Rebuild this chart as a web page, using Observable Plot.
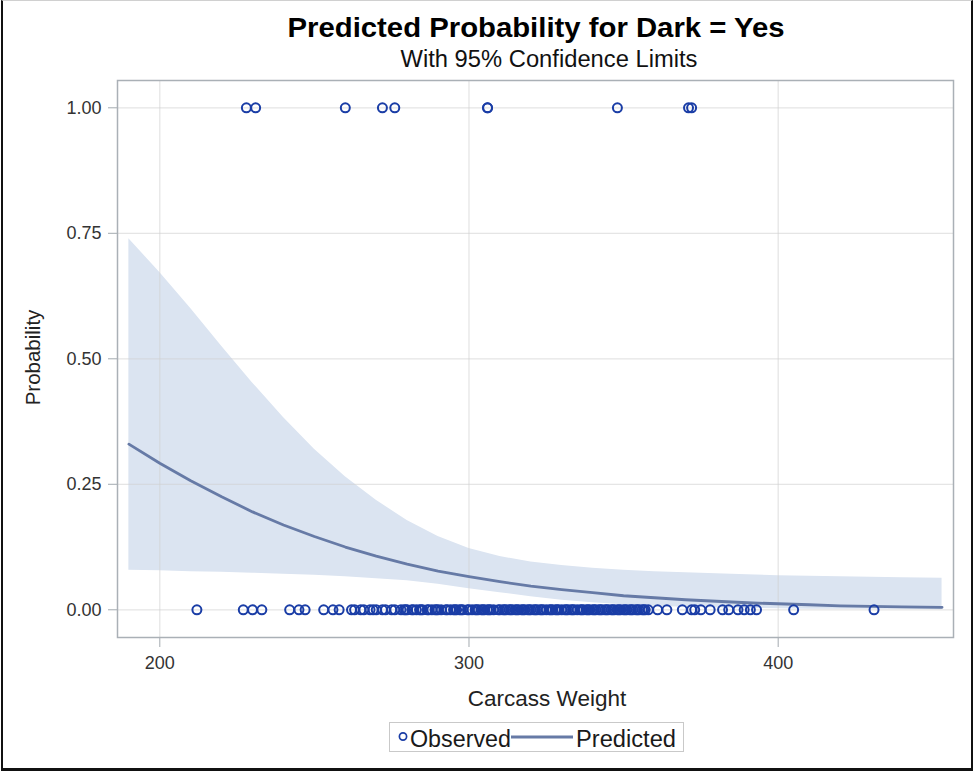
<!DOCTYPE html>
<html>
<head>
<meta charset="utf-8">
<script src="https://cdn.jsdelivr.net/npm/d3@7"></script>
<script src="https://cdn.jsdelivr.net/npm/@observablehq/plot@0.6"></script>
<style>
  body { margin: 0; background: #fff; font-family: "Liberation Sans", Arial, sans-serif; }
  #chart { position: relative; width: 973px; height: 771px; overflow: hidden; background: #fff; }
  #border { position: absolute; left: 1px; top: 0; width: 968px; height: 767px;
            border-left: 2px solid #111; border-right: 2px solid #111;
            border-bottom: 3px solid #111; border-top: 1px solid #d0d0d0; }
  #head, #legend { position: absolute; overflow: visible; }
  #head { left: 0; top: 0; }
  #legend { left: 388px; top: 721px; }
  #plot { position: absolute; left: 0; top: 75px; }
</style>
</head>
<body>
<div id="chart">
  <div id="border"></div>
  <svg id="head" width="973" height="75">
    <text x="536" y="37" text-anchor="middle" font-size="28" font-weight="bold" fill="#000"
          textLength="497" lengthAdjust="spacingAndGlyphs">Predicted Probability for Dark = Yes</text>
    <text x="549" y="67" text-anchor="middle" font-size="23" fill="#111"
          textLength="297" lengthAdjust="spacingAndGlyphs">With 95% Confidence Limits</text>
  </svg>
  <div id="plot"></div>
  <svg id="legend" width="298" height="34">
    <rect x="1.5" y="1.5" width="294" height="29" fill="#fff" stroke="#c9c9c9" stroke-width="1"/>
    <circle cx="15" cy="15.5" r="3.6" fill="none" stroke="#1a3da6" stroke-width="1.7"/>
    <text x="22" y="25.5" font-size="23.5" fill="#1a1a1a" textLength="101" lengthAdjust="spacingAndGlyphs">Observed</text>
    <line x1="123" x2="185" y1="16" y2="16" stroke="#667aa6" stroke-width="3"/>
    <text x="188" y="25.5" font-size="23.5" fill="#1a1a1a" textLength="100" lengthAdjust="spacingAndGlyphs">Predicted</text>
  </svg>
</div>
<script>
// Carcass weights of the observed animals, split by the binary response Dark
const darkNoWeights = [212, 227, 230, 233, 242, 245, 247, 253, 256, 258, 262, 263, 265, 266, 268, 269,
  270, 272, 273, 275, 276, 278, 279, 279.5, 280, 281.5, 282, 283, 284, 284.5, 285, 286.5, 287, 288, 289,
  289.5, 290, 291, 292.5, 293, 294, 295, 295.5, 296, 297, 297.5, 298, 299.5, 300, 301, 302, 302.5, 303,
  304, 304.5, 305, 306, 306.5, 307, 308, 309.5, 310, 311, 311.5, 312, 313, 313.5, 314, 315, 315.5, 316,
  317, 317.5, 318, 319, 319.5, 320, 321, 321.5, 322, 323, 323.5, 324, 325, 326, 326.5, 327, 328, 328.5,
  329, 330, 331, 331.5, 332, 333, 333.5, 334, 335, 336, 336.5, 337, 338, 338.5, 339, 340, 340.5, 341,
  342, 342.5, 343, 344, 344.5, 345, 346, 346.5, 347, 348, 348.5, 349, 350, 350.5, 351, 352, 352.5, 353,
  354, 354.5, 355, 356, 356.5, 357, 358, 361, 364, 369, 372, 373, 375, 378, 382, 384, 387, 389, 391,
  393, 405, 431];
const darkYesWeights = [228, 231, 260, 272, 276, 306, 306, 348, 371, 372];

// Fitted probability of Dark = Yes with its 95% confidence limits
const fitWeight = [190, 200, 210, 220, 230, 240, 250, 260, 270, 280, 290, 300, 310, 320, 330, 340,
  350, 360, 370, 380, 390, 400, 410, 420, 430, 440, 453];
const fitPredicted = [0.330, 0.292, 0.257, 0.225, 0.195, 0.169, 0.146, 0.125, 0.107, 0.091, 0.077,
  0.066, 0.056, 0.047, 0.040, 0.034, 0.028, 0.024, 0.020, 0.017, 0.014, 0.012, 0.010, 0.008, 0.007,
  0.006, 0.005];
const fitUpper = [0.739, 0.672, 0.600, 0.525, 0.452, 0.383, 0.320, 0.265, 0.218, 0.178, 0.146, 0.122,
  0.106, 0.095, 0.088, 0.083, 0.079, 0.076, 0.074, 0.072, 0.070, 0.068, 0.067, 0.066, 0.065, 0.064,
  0.063];
const fitLower = [0.079, 0.078, 0.076, 0.075, 0.073, 0.071, 0.069, 0.066, 0.062, 0.058, 0.051, 0.042,
  0.034, 0.026, 0.019, 0.014, 0.010, 0.007, 0.005, 0.004, 0.003, 0.002, 0.001, 0.001, 0.001, 0.001,
  0.000];

// Axis ticks
const xTicks = [200, 300, 400];
const yTicks = [0, 0.25, 0.5, 0.75, 1];

const observed = [
  ...darkNoWeights.map(w => ({weight: w, dark: 0})),
  ...darkYesWeights.map(w => ({weight: w, dark: 1}))
];
const fit = fitWeight.map((w, i) => ({
  weight: w, predicted: fitPredicted[i], lower: fitLower[i], upper: fitUpper[i]
}));

const tickColor = "#a3aab0";
const labelColor = "#333";

const chart = Plot.plot({
  width: 973,
  height: 640,
  marginLeft: 117,
  marginRight: 20,
  marginTop: 5,
  marginBottom: 78,
  style: {fontFamily: "'Liberation Sans', Arial, sans-serif", fontSize: "18px", background: "transparent", color: labelColor},
  x: {domain: [186.32, 456.7]},
  y: {domain: [-0.0552, 1.0544]},
  marks: [
    Plot.areaY(fit, {x: "weight", y1: "lower", y2: "upper", fill: "#dbe4f1", curve: "linear"}),
    Plot.gridX(xTicks, {stroke: "#cfcfcf", strokeOpacity: 0.55, strokeWidth: 1.3}),
    Plot.gridY(yTicks, {stroke: "#cfcfcf", strokeOpacity: 0.55, strokeWidth: 1.3}),
    Plot.lineY(fit, {x: "weight", y: "predicted", stroke: "#667aa6", strokeWidth: 2.8}),
    Plot.dot(observed, {x: "weight", y: "dark", r: 4.5, stroke: "#1a3da6", strokeWidth: 2, fill: "none"}),
    Plot.axisX({ticks: xTicks, tickSize: 10, tickPadding: 9, stroke: tickColor, fill: labelColor, label: null}),
    Plot.axisY({ticks: yTicks, tickFormat: ".2f", tickSize: 9, tickPadding: 7, stroke: tickColor, fill: labelColor, label: null}),
    Plot.frame({stroke: "#aab0b6", strokeWidth: 1.5}),
    Plot.text(["Carcass Weight"], {frameAnchor: "bottom", textAnchor: "middle", lineAnchor: "middle",
      dx: 11.5, dy: 61.5, fontSize: 22.5, fill: "#222"}),
    Plot.text(["Probability"], {frameAnchor: "left", textAnchor: "middle", lineAnchor: "middle",
      rotate: -90, dx: -84, dy: -1.5, fontSize: 20.5, fill: "#222"})
  ]
});

document.getElementById("plot").appendChild(chart);
</script>
</body>
</html>
